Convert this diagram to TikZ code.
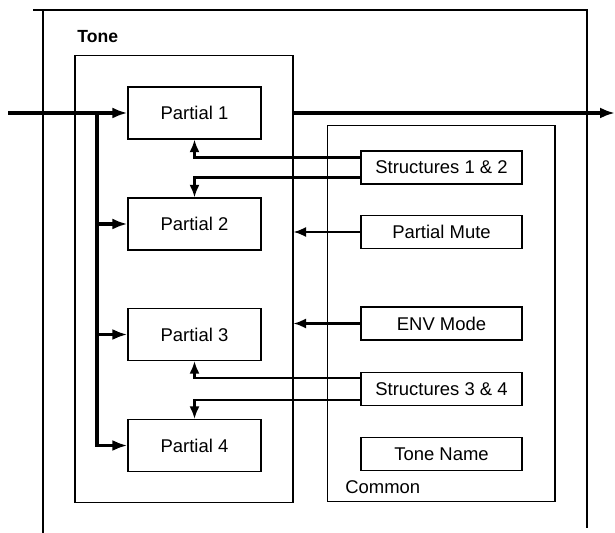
\documentclass[tikz,border=0pt]{standalone}
\usepackage{fontspec}
\setmainfont{Liberation Sans}
\usepackage{tikz}
\usetikzlibrary{arrows.meta, positioning, calc}
\tikzset{
  partial/.style={rectangle, draw=black, line width=0.7pt, minimum width=2.66cm, minimum height=1.04cm, text centered, font=\fontsize{10.5}{12}\selectfont},
  param/.style={rectangle, draw=black, line width=0.7pt, minimum width=3.22cm, minimum height=0.66cm, text centered, font=\fontsize{10.5}{12}\selectfont},
  group/.style={rectangle, draw=black, line width=0.6pt, inner sep=0pt},
  label/.style={anchor=west, inner sep=0pt, font=\fontsize{10.5}{12}\selectfont},
  bus/.style={line width=1.8pt, -{Latex[length=3mm,width=2.2mm]}},
  ctrl/.style={line width=1.2pt, -{Latex[length=2.5mm,width=2mm]}}
}

\begin{document}
\begin{tikzpicture}[x=0.02cm, y=-0.02cm]
    \useasboundingbox (0,0) rectangle (615,533);

    % Frame
    \draw[line width=0.6pt] (43,533) -- (43,10);
    \draw[line width=0.6pt] (33,10) -- (587,10) -- (587,528);

    % Groups
    \node[group, minimum width=4.36cm, minimum height=8.96cm] (tone) at (184,279) {};
    \node[group, minimum width=4.56cm, minimum height=7.54cm] (common) at (441,313.5) {};
    \node[label, font=\fontsize{10}{12}\selectfont\bfseries] (tonelbl) at (77,37) {Tone};
    \node[label] (commonlbl) at (345,487) {Common};

    % Nodes
    \node[partial] (p1) at (194.5,113) {Partial 1};
    \node[partial] (p2) at (194.5,224) {Partial 2};
    \node[partial] (p3) at (194.5,334.5) {Partial 3};
    \node[partial] (p4) at (194.5,445.5) {Partial 4};

    \node[param] (s12) at (441.5,167.5) {Structures 1 \& 2};
    \node[param] (mute) at (441.5,232) {Partial Mute};
    \node[param] (env) at (441.5,323.5) {ENV Mode};
    \node[param] (s34) at (441.5,389) {Structures 3 \& 4};
    \node[param] (name) at (441.5,454) {Tone Name};

    \coordinate (in) at (8,113);
    \coordinate (bus) at (97,113);
    \coordinate (out) at (615,113);

    % Arrows
    \draw[bus] (in) -- (p1.west);
    \draw[bus] (bus) |- (p4.west);
    \draw[bus] (bus |- p2.west) -- (p2.west);
    \draw[bus] (bus |- p3.west) -- (p3.west);
    \draw[bus] (tone.east |- p1.east) -- (out);

    \draw[ctrl] ([yshift=0.2cm]s12.west) -| (p1.south);
    \draw[ctrl] ([yshift=-0.2cm]s12.west) -| (p2.north);
    \draw[ctrl] (mute.west) -- (tone.east |- mute.west);
    \draw[ctrl] (env.west) -- (tone.east |- env.west);
    \draw[ctrl] ([yshift=0.22cm]s34.west) -| (p3.south);
    \draw[ctrl] ([yshift=-0.22cm]s34.west) -| (p4.north);
\end{tikzpicture}
\end{document}
